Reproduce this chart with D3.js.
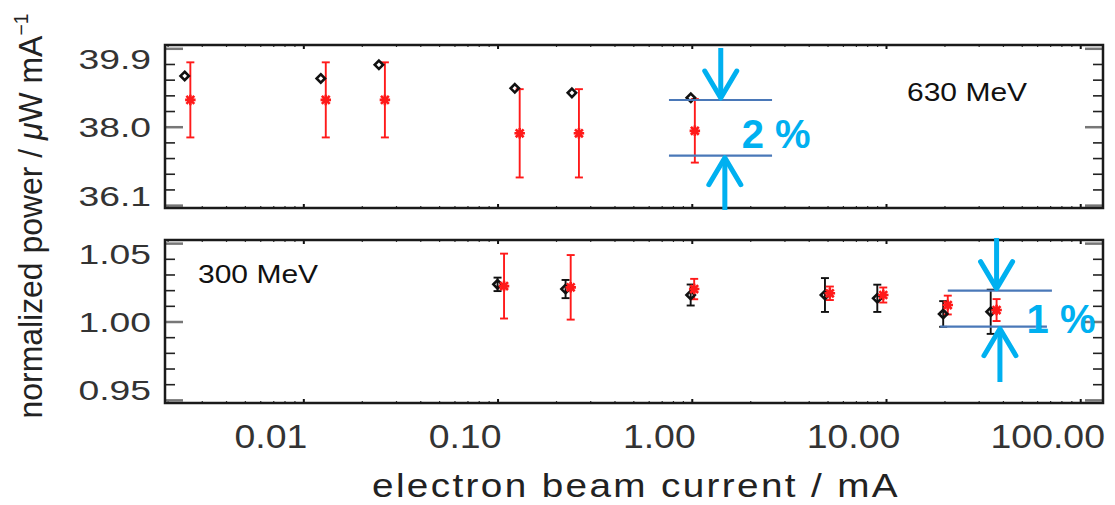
<!DOCTYPE html>
<html>
<head>
<meta charset="utf-8">
<script src="https://cdn.jsdelivr.net/npm/d3@7"></script>
<style>
  body { margin: 0; background: #fff; }
  text { font-family: "Liberation Sans", Arial, sans-serif; }
</style>
</head>
<body>
<div id="d3-container"></div>
<script>
// beam current (mA) and normalized power, 630 MeV panel
const topBlackI = [0.00245, 0.0123, 0.0245, 0.1227, 0.2415, 0.989];
const topBlackP = [39.23, 39.17, 39.50, 38.93, 38.82, 38.70];
const topRedI = [0.00262, 0.01305, 0.0263, 0.130, 0.2624, 1.037];
const topRedP = [38.65, 38.65, 38.65, 37.84, 37.84, 37.90];
const topRedErr = [0.91, 0.91, 0.91, 1.07, 1.07, 0.77];

// 300 MeV panel
const botBlackI = [0.100, 0.224, 0.987, 4.85, 9.02, 19.7, 34.6];
const botBlackP = [1.0237, 1.0207, 1.0169, 1.0169, 1.0148, 1.0048, 1.0062];
const botBlackErr = [0.0043, 0.0058, 0.0067, 0.0108, 0.0087, 0.0082, 0.0141];
const botRedI = [0.108, 0.238, 1.029, 5.14, 9.68, 20.8, 37.1];
const botRedP = [1.0226, 1.0218, 1.0207, 1.0180, 1.0169, 1.0105, 1.0073];
const botRedErr = [0.0207, 0.0206, 0.0065, 0.0043, 0.0048, 0.0060, 0.0070];

// axis ticks
const xTicks = [0.01, 0.1, 1, 10, 100];
const xTickLabels = ["0.01", "0.10", "1.00", "10.00", "100.00"];
const topYTicks = [36.1, 38.0, 39.9];
const topYLabels = ["36.1", "38.0", "39.9"];
const botYTicks = [0.95, 1.00, 1.05];
const botYLabels = ["0.95", "1.00", "1.05"];

// blue spread markers (band edges, arrow tails)
const topBand = [38.647, 37.298];
const topBandI = [[0.763, 2.59], [0.763, 2.59]];
const topArrowI = [1.41, 1.48];
const topArrowTail = [39.907, 35.982];
const botBand = [1.0197, 0.9967];
const botBandI = [[20.8, 71.5], [19.0, 67.4]];
const botArrowI = [37.1, 38.6];
const botArrowTail = [1.0533, 0.9614];

const width = 1115;
const height = 505;
const left = 165, right = 1103;

const svg = d3.select('#d3-container')
  .append('svg')
  .attr('width', width)
  .attr('height', height);

const x = d3.scaleLog()
  .domain([0.00194, 131])
  .range([left, right]);

const xMinor = [];
for (let e = -3; e <= 2; e++) {
  for (let k = 2; k <= 9; k++) {
    const v = k * Math.pow(10, e);
    if (v > x.domain()[0] && v < x.domain()[1]) xMinor.push(v);
  }
}

const diamond = {
  draw(ctx, size) {
    const r = Math.sqrt(size) / 2;
    ctx.moveTo(0, -r); ctx.lineTo(r, 0); ctx.lineTo(0, r); ctx.lineTo(-r, 0); ctx.closePath();
  }
};
const asterisk = {
  draw(ctx, size) {
    const r = Math.sqrt(size) / 2, u = r * 0.75;
    ctx.moveTo(-r, 0); ctx.lineTo(r, 0);
    ctx.moveTo(0, -r); ctx.lineTo(0, r);
    ctx.moveTo(-u, -u); ctx.lineTo(u, u);
    ctx.moveTo(-u, u); ctx.lineTo(u, -u);
  }
};

function stretch(sel, sx) {
  sel.each(function () {
    const w = this.getComputedTextLength();
    d3.select(this).attr('textLength', w * sx).attr('lengthAdjust', 'spacingAndGlyphs');
  });
}

function noDomain(g) { g.select('.domain').remove(); }

function drawPanel(p) {
  const y = d3.scaleLinear().domain(p.yDomain).range([p.bottom, p.top]);
  const g = svg.append('g');
  const step = (p.yTicks[1] - p.yTicks[0]) / 5;
  const yMinor = d3.range(1, 10).filter(i => i % 5).map(i => p.yTicks[0] + i * step);

  // x ticks on top and bottom edge, pointing inward
  [[p.bottom, d3.axisTop], [p.top, d3.axisBottom]].forEach(([yy, ax]) => {
    g.append('g').attr('transform', `translate(0,${yy})`)
      .call(ax(x).tickValues(xMinor).tickSize(2).tickFormat(''))
      .call(noDomain)
      .selectAll('.tick line').attr('stroke', '#333').attr('stroke-width', 1.2);
    g.append('g').attr('transform', `translate(0,${yy})`)
      .call(ax(x).tickValues(xTicks).tickSize(4).tickFormat(''))
      .call(noDomain)
      .selectAll('.tick line').attr('stroke', '#111').attr('stroke-width', 2);
  });

  // y ticks on left and right edge
  [[left, d3.axisRight], [right, d3.axisLeft]].forEach(([xx, ax]) => {
    g.append('g').attr('transform', `translate(${xx},0)`)
      .call(ax(y).tickValues(yMinor).tickSize(10).tickFormat(''))
      .call(noDomain)
      .selectAll('.tick line').attr('stroke', '#222').attr('stroke-width', 1.6);
    g.append('g').attr('transform', `translate(${xx},0)`)
      .call(ax(y).tickValues(p.yTicks).tickSize(18).tickFormat(''))
      .call(noDomain)
      .selectAll('.tick line').attr('stroke', '#777').attr('stroke-width', 2.5);
  });

  // y labels, end ones kept inside the frame
  const yl = g.append('g').attr('transform', `translate(${left},0)`)
    .call(d3.axisLeft(y).tickValues(p.yTicks).tickSize(0).tickPadding(14)
      .tickFormat((d, i) => p.yLabels[i]))
    .call(noDomain);
  yl.attr('font-family', null).attr('font-size', null);
  yl.selectAll('text')
    .attr('font-size', 28)
    .attr('fill', '#333')
    .attr('y', (d, i) => i === 0 ? -9 : (i === p.yTicks.length - 1 ? 11 : 1));
  stretch(yl.selectAll('text'), 1.33);

  // frame
  g.append('rect')
    .attr('x', left).attr('y', p.top)
    .attr('width', right - left).attr('height', p.bottom - p.top)
    .attr('fill', 'none').attr('stroke', '#1a1a1a').attr('stroke-width', 2.5);

  // error bars
  function errBars(data, color) {
    const eb = g.append('g').attr('stroke', color).attr('stroke-width', 1.9).attr('fill', 'none');
    eb.selectAll('.v').data(data).join('line')
      .attr('x1', d => x(d[0])).attr('x2', d => x(d[0]))
      .attr('y1', d => y(d[1] - d[2])).attr('y2', d => y(d[1] + d[2]));
    eb.selectAll('.ct').data(data).join('line')
      .attr('x1', d => x(d[0]) - 4).attr('x2', d => x(d[0]) + 4)
      .attr('y1', d => y(d[1] + d[2])).attr('y2', d => y(d[1] + d[2]));
    eb.selectAll('.cb').data(data).join('line')
      .attr('x1', d => x(d[0]) - 4).attr('x2', d => x(d[0]) + 4)
      .attr('y1', d => y(d[1] - d[2])).attr('y2', d => y(d[1] - d[2]));
  }

  const black = d3.zip(p.blackI, p.blackP, p.blackErr || p.blackI.map(() => 0));
  const red = d3.zip(p.redI, p.redP, p.redErr);
  if (p.blackErr) errBars(black, '#111');
  errBars(red, '#ff1a1a');

  g.append('g').selectAll('path').data(black).join('path')
    .attr('transform', d => `translate(${x(d[0])},${y(d[1])})`)
    .attr('d', d3.symbol(diamond, 70))
    .attr('fill', 'none').attr('stroke', '#111').attr('stroke-width', 2.6);
  g.append('g').selectAll('path').data(red).join('path')
    .attr('transform', d => `translate(${x(d[0])},${y(d[1])})`)
    .attr('d', d3.symbol(asterisk, 110))
    .attr('fill', 'none').attr('stroke', '#ff1a1a').attr('stroke-width', 2.6);

  // panel label
  const lab = g.append('text')
    .attr('x', p.labelX).attr('y', p.top + p.labelDy)
    .attr('font-size', 25).attr('fill', '#111')
    .text(p.label);
  stretch(lab, 1.2);

  // spread annotation
  const ann = g.append('g');
  ann.selectAll('line').data(d3.zip(p.band, p.bandI)).join('line')
    .attr('x1', d => x(d[1][0])).attr('x2', d => x(d[1][1]))
    .attr('y1', d => y(d[0])).attr('y2', d => y(d[0]))
    .attr('stroke', '#4a78b8').attr('stroke-width', 2.2);
  d3.zip(p.arrowI, p.arrowTail, p.band).forEach(([ai, tail, tip]) => {
    const ax = x(ai), y0 = y(tail), y1 = y(tip);
    const dir = y1 > y0 ? -1 : 1;
    ann.append('line')
      .attr('x1', ax).attr('x2', ax).attr('y1', y0).attr('y2', y1 + dir * 3)
      .attr('stroke', '#00b0f0').attr('stroke-width', 5);
    ann.append('path')
      .attr('d', d3.line()([[ax - 16, y1 + dir * 29], [ax, y1 + dir * 2], [ax + 16, y1 + dir * 29]]))
      .attr('fill', 'none').attr('stroke', '#00b0f0').attr('stroke-width', 5)
      .attr('stroke-linecap', 'round').attr('stroke-linejoin', 'round');
  });
  ann.append('text')
    .attr('x', x(p.arrowI[0]) + p.pctDx)
    .attr('y', (y(p.band[0]) + y(p.band[1])) / 2 + p.pctDy)
    .attr('font-family', '"Open Sans", sans-serif')
    .attr('font-weight', 700).attr('font-size', 40)
    .attr('fill', '#00b0f0')
    .text(p.pct);
}

drawPanel({
  top: 45, bottom: 208, yDomain: [36.03, 39.98],
  yTicks: topYTicks, yLabels: topYLabels,
  blackI: topBlackI, blackP: topBlackP,
  redI: topRedI, redP: topRedP, redErr: topRedErr,
  label: '630 MeV', labelX: 907, labelDy: 56,
  band: topBand, bandI: topBandI, arrowI: topArrowI, arrowTail: topArrowTail,
  pct: '2 %', pctDx: 21, pctDy: 20
});

drawPanel({
  top: 240, bottom: 403, yDomain: [0.948, 1.052],
  yTicks: botYTicks, yLabels: botYLabels,
  blackI: botBlackI, blackP: botBlackP, blackErr: botBlackErr,
  redI: botRedI, redP: botRedP, redErr: botRedErr,
  label: '300 MeV', labelX: 198, labelDy: 43,
  band: botBand, bandI: botBandI, arrowI: botArrowI, arrowTail: botArrowTail,
  pct: '1 %', pctDx: 30, pctDy: 24
});

// x tick labels (set left of the tick marks as in the original)
const xl = svg.append('g')
  .attr('transform', 'translate(-33,403)')
  .call(d3.axisBottom(x).tickValues(xTicks).tickSize(0).tickPadding(21)
    .tickFormat((d, i) => xTickLabels[i]))
  .call(noDomain);
xl.attr('font-family', null).attr('font-size', null);
xl.selectAll('text').attr('font-size', 34).attr('fill', '#333');
stretch(xl.selectAll('text'), 1.1);

// axis titles
svg.append('text')
  .attr('x', 636).attr('y', 497)
  .attr('text-anchor', 'middle')
  .attr('font-family', '"DejaVu Sans", sans-serif')
  .attr('font-size', 33).attr('fill', '#222')
  .attr('textLength', 528).attr('lengthAdjust', 'spacingAndGlyphs')
  .attr('letter-spacing', 2)
  .text('electron beam current / mA');

const yt = svg.append('text')
  .attr('transform', 'translate(42,216) rotate(-90)')
  .attr('text-anchor', 'middle')
  .attr('font-family', '"DejaVu Sans", sans-serif')
  .attr('font-size', 33).attr('fill', '#222')
  .attr('textLength', 405).attr('lengthAdjust', 'spacingAndGlyphs');
yt.append('tspan').text('normalized power / ');
yt.append('tspan').attr('font-style', 'italic').text('μ');
yt.append('tspan').text('W mA');
yt.append('tspan').attr('font-size', 20).attr('dy', -14).text('−1');
</script>
</body>
</html>
